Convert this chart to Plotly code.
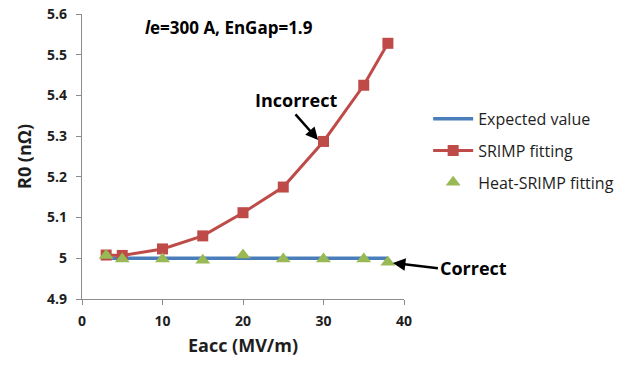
import plotly.graph_objects as go

# Accelerating field (MV/m) and fitted residual resistance (nOhm)
eacc = [3, 5, 10, 15, 20, 25, 30, 35, 38]
expected = [5.0] * len(eacc)
srimp = [5.008, 5.007, 5.023, 5.055, 5.112, 5.175, 5.287, 5.425, 5.528]
heat_srimp = [5.007, 4.998, 4.998, 4.995, 5.008, 4.998, 4.998, 4.998, 4.99]

x_ticks = [0, 10, 20, 30, 40]
y_ticks = [4.9, 5.0, 5.1, 5.2, 5.3, 5.4, 5.5, 5.6]
y_tick_text = ["4.9", "5", "5.1", "5.2", "5.3", "5.4", "5.5", "5.6"]

FONT = "'Open Sans', sans-serif"
TXT = "#1e1e1e"
BLUE = "#4a7ebb"
RED = "#be4b48"
GREEN = "#98b954"
AXIS = "#8c8c8c"

fig = go.Figure()
fig.add_trace(go.Scatter(x=eacc, y=expected, mode="lines", name="Expected value",
                         legendgroup="a", line=dict(color=BLUE, width=3.5)))
fig.add_trace(go.Scatter(x=eacc, y=srimp, mode="lines+markers", name="SRIMP fitting",
                         legendgroup="b", line=dict(color=RED, width=3),
                         marker=dict(symbol="square", size=11, color=RED)))
fig.add_trace(go.Scatter(x=eacc, y=heat_srimp, mode="markers", name="Heat-SRIMP fitting",
                         legendgroup="c",
                         marker=dict(symbol="triangle-up", size=13, color=GREEN)))

# Callouts
fig.add_annotation(x=30, y=srimp[6], ax=-24, ay=-27, axref="pixel", ayref="pixel",
                   text="Incorrect", showarrow=True, arrowhead=2, arrowsize=1,
                   arrowwidth=2.5, arrowcolor="black", standoff=2,
                   font=dict(family=FONT, size=18, color="black", weight="bold"),
                   yanchor="bottom", xshift=-4)
fig.add_annotation(x=38, y=heat_srimp[8], ax=50, ay=6, axref="pixel", ayref="pixel",
                   text="Correct", showarrow=True, arrowhead=2, arrowsize=1,
                   arrowwidth=2.5, arrowcolor="black", standoff=5,
                   font=dict(family=FONT, size=18, color="black", weight="bold"),
                   xanchor="left")
fig.add_annotation(x=0.455, y=5.6, xref="paper", yref="y", showarrow=False, yshift=-13,
                   text="<i>l</i>e=300 A, EnGap=1.9",
                   font=dict(family=FONT, size=17, color="black", weight="bold"),
                   yanchor="middle")

tickfont = dict(family=FONT, size=14, color=TXT, weight="bold")
titlefont = dict(family=FONT, size=18, color=TXT, weight="bold")

fig.update_layout(
    width=628, height=367,
    margin=dict(l=82, r=224, t=14, b=68, autoexpand=False),
    paper_bgcolor="white", plot_bgcolor="white",
    font=dict(family=FONT, size=14, color=TXT),
    showlegend=True,
    legend=dict(x=1.075, y=0.692, xanchor="left", yanchor="top",
                font=dict(family=FONT, size=16, color=TXT),
                traceorder="grouped", tracegroupgap=8, itemwidth=40,
                bgcolor="rgba(0,0,0,0)"),
    xaxis=dict(range=[0, 40], tickvals=x_ticks, showgrid=False, zeroline=False,
               showline=True, linecolor=AXIS, linewidth=1.2, automargin=False,
               ticks="outside", ticklen=5, tickcolor=AXIS, ticklabelstandoff=4,
               tickfont=tickfont,
               title=dict(text="Eacc (MV/m)", font=titlefont, standoff=10)),
    yaxis=dict(range=[4.9, 5.6], tickvals=y_ticks, ticktext=y_tick_text, showgrid=False,
               zeroline=False, showline=True, linecolor=AXIS, linewidth=1.2, automargin=False,
               ticks="outside", ticklen=5, tickcolor=AXIS, ticklabelstandoff=6,
               tickfont=tickfont,
               title=dict(text="R0 (nΩ)", font=titlefont, standoff=10)),
)

fig.write_html("out.html")
